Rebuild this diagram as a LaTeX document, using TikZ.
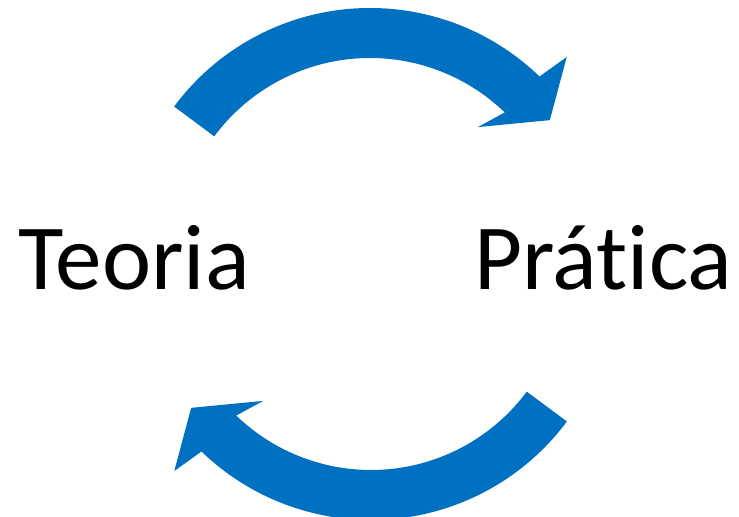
\documentclass[tikz,border=0pt]{standalone}
\usepackage{fontspec}
\setmainfont[RawFeature={-liga}]{Carlito}
\definecolor{ciclo_azul}{RGB}{0, 112, 192}
\usepackage{tikz}
\usetikzlibrary{positioning}

\begin{document}
\begin{tikzpicture}[
      rotulo/.style={inner sep=0pt, font=\fontsize{26.5}{32}\selectfont},
      pics/seta/.style={code={
        \fill[ciclo_azul] (143.4:2.44) arc[start angle=143.4, end angle=46, radius=2.44]
              -- (44.75:2.77) -- (36.25:2.23) -- (49.2:1.65) -- (46:1.94)
              arc[start angle=46, end angle=143.4, radius=1.94] -- cycle;
      }},
    ]
      \useasboundingbox (0,0) rectangle (7.39,5.17);

      \node[rotulo, anchor=base west] (teoria)  at (0.18, 2.27) {Teoria};
      \node[rotulo, anchor=base east] (pratica) at (7.33, 2.27) {Prática};

      % ida e volta
      \pic (ida)   at (3.70, 2.65) {seta};
      \pic[rotate=180] (volta) at (3.71, 2.41) {seta};
    \end{tikzpicture}
\end{document}
